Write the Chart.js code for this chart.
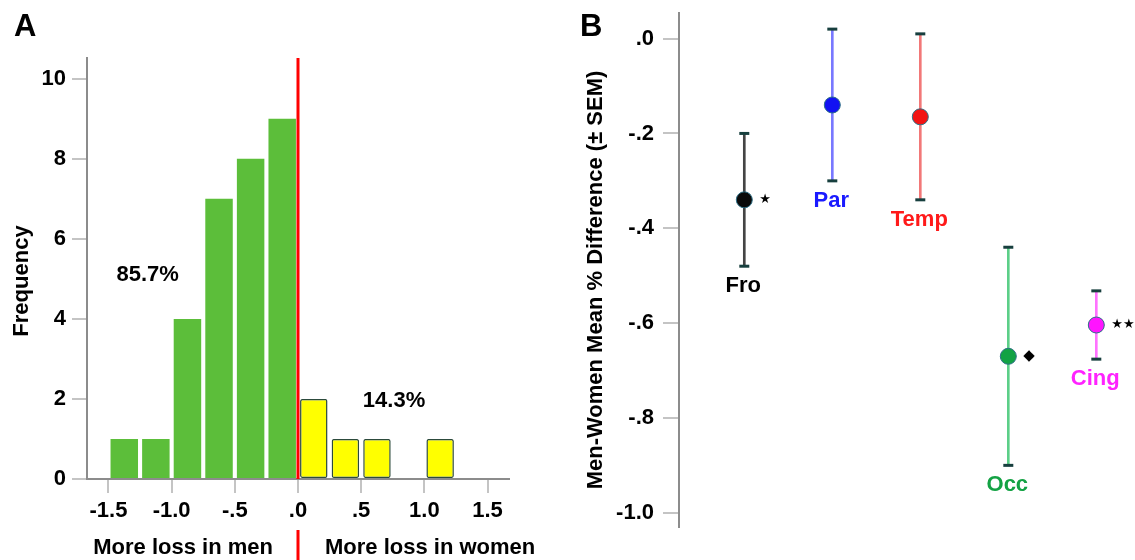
<!DOCTYPE html>
<html lang="en">
<head>
  <meta charset="UTF-8" />
  <title>Men vs women loss</title>
  <style>
    * {
      box-sizing: border-box;
    }
    body {
      margin: 0;
      width: 1135px;
      height: 560px;
      overflow: hidden;
      position: relative;
      background: #fff;
      font-family: 'Liberation Sans', Arial, sans-serif;
    }
    canvas {
      position: absolute;
      top: 0;
    }
    #histA {
      left: 0;
    }
    #diffB {
      left: 560px;
    }
    .letter {
      position: absolute;
      top: 10px;
      font-size: 31px;
      font-weight: bold;
      line-height: 1;
      color: #000;
    }
  </style>
</head>
<body>
  <canvas id="histA" width="560" height="560"></canvas>
  <canvas id="diffB" width="575" height="560"></canvas>
  <div class="letter" style="left:14px">A</div>
  <div class="letter" style="left:580px">B</div>

  <script src="https://cdn.jsdelivr.net/npm/chart.js"></script>
  <script>
    // panel A: histogram of differences (bin width .25)
    const binCenters = [-1.375, -1.125, -0.875, -0.625, -0.375, -0.125, 0.125, 0.375, 0.625, 1.125];
    const binCounts = [1, 1, 4, 7, 8, 9, 2, 1, 1, 1];
    const histXTicks = [-1.5, -1.0, -0.5, 0, 0.5, 1.0, 1.5];
    const histXLabels = ['-1.5', '-1.0', '-.5', '.0', '.5', '1.0', '1.5'];
    const histYTicks = [0, 2, 4, 6, 8, 10];

    // panel B: regional mean differences
    const regions = ['Fro', 'Par', 'Temp', 'Occ', 'Cing'];
    const regionMeans = [-0.34, -0.14, -0.165, -0.67, -0.604];
    const regionSem = [0.14, 0.16, 0.175, 0.23, 0.072];
    const regionMarks = ['\u2605', '', '', '\u25C6', '\u2605\u2605'];
    const diffYTicks = [0, -0.2, -0.4, -0.6, -0.8, -1.0];
    const diffYLabels = ['.0', '-.2', '-.4', '-.6', '-.8', '-1.0'];

    const FONT = "'Liberation Sans', Arial, sans-serif";
    const tickFont = { family: FONT, size: 22, weight: 'bold' };

    const dotColors = ['#0a0a0a', '#1212f2', '#f21414', '#12a244', '#ff14ff'];
    const lineColors = ['#444444', '#7878ff', '#f27878', '#5ccf88', '#ff72ff'];
    const labelColors = ['#000000', '#1a1aff', '#ff1a1a', '#14a244', '#ff22ff'];

    const totalCount = binCounts.reduce((a, b) => a + b, 0);
    const menCount = binCounts.filter((c, i) => binCenters[i] < 0).reduce((a, b) => a + b, 0);
    const menPct = (100 * menCount / totalCount).toFixed(1) + '%';
    const womenPct = (100 * (totalCount - menCount) / totalCount).toFixed(1) + '%';

    const histExtras = {
      id: 'histExtras',
      afterDatasetsDraw(chart) {
        const { ctx, chartArea, scales: { x, y } } = chart;
        const zx = x.getPixelForValue(0);
        ctx.save();
        ctx.strokeStyle = '#ff0000';
        ctx.lineWidth = 3;
        ctx.beginPath();
        ctx.moveTo(zx, chartArea.top);
        ctx.lineTo(zx, chartArea.bottom);
        ctx.moveTo(zx, 530);
        ctx.lineTo(zx, 560);
        ctx.stroke();

        ctx.fillStyle = '#000';
        ctx.font = 'bold 22px ' + FONT;
        ctx.textBaseline = 'middle';
        ctx.textAlign = 'right';
        ctx.fillText('More loss in men', zx - 25, 548);
        ctx.textAlign = 'left';
        ctx.fillText('More loss in women', zx + 27, 548);

        ctx.textAlign = 'center';
        ctx.fillText(menPct, x.getPixelForValue(-1.19), y.getPixelForValue(5.1));
        ctx.fillText(womenPct, x.getPixelForValue(0.76), y.getPixelForValue(1.96));

        ctx.translate(22, 281);
        ctx.rotate(-Math.PI / 2);
        ctx.fillText('Frequency', 0, 0);
        ctx.restore();
      }
    };

    new Chart(document.getElementById('histA'), {
      type: 'bar',
      data: {
        datasets: [{
          data: binCenters.map((c, i) => ({ x: c, y: binCounts[i] })),
          backgroundColor: binCenters.map(c => c < 0 ? '#5cbe3a' : '#ffff00'),
          borderColor: binCenters.map(c => c < 0 ? '#5cbe3a' : '#2c4a3c'),
          borderWidth: binCenters.map(c => c < 0 ? 0 : 1.5),
          borderRadius: binCenters.map(c => c < 0 ? 0 : 2),
          borderSkipped: false,
          barPercentage: 0.87,
          categoryPercentage: 1
        }]
      },
      options: {
        responsive: false,
        animation: false,
        layout: { padding: { top: 58, right: 51, left: 0, bottom: 0 } },
        plugins: { legend: { display: false }, tooltip: { enabled: false } },
        scales: {
          x: {
            type: 'linear',
            min: -1.67,
            max: 1.67,
            offset: false,
            grid: { offset: false, drawOnChartArea: false, tickLength: 14, color: '#c4c4c4', lineWidth: 2 },
            border: { color: '#8c8c8c', width: 2 },
            afterBuildTicks: s => { s.ticks = histXTicks.map(v => ({ value: v })); },
            afterFit: s => { s.height = 81; },
            ticks: {
              callback: (v, i) => histXLabels[i],
              color: '#000',
              font: tickFont,
              padding: 5,
              maxRotation: 0,
              autoSkip: false
            }
          },
          y: {
            min: 0,
            max: 10.52,
            grid: { drawOnChartArea: false, tickLength: 15, color: '#c4c4c4', lineWidth: 2 },
            border: { color: '#8c8c8c', width: 2 },
            afterBuildTicks: s => { s.ticks = histYTicks.map(v => ({ value: v })); },
            afterFit: s => { s.width = 87; },
            ticks: { color: '#000', font: tickFont, padding: 6 }
          }
        }
      },
      plugins: [histExtras]
    });

    const diffExtras = {
      id: 'diffExtras',
      afterDatasetsDraw(chart) {
        const { ctx, scales: { x, y } } = chart;
        ctx.save();
        ctx.textBaseline = 'middle';
        regions.forEach((name, i) => {
          const px = x.getPixelForValue(i + 1);
          const low = y.getPixelForValue(regionMeans[i] - regionSem[i]);
          ctx.fillStyle = labelColors[i];
          ctx.font = 'bold 22px ' + FONT;
          ctx.textAlign = 'center';
          ctx.fillText(name, px - 1, low + 20);
          if (regionMarks[i]) {
            ctx.fillStyle = '#000';
            ctx.font = (regionMarks[i] === '\u25C6' ? '15px' : '13px') + " 'DejaVu Sans', sans-serif";
            ctx.textAlign = 'left';
            ctx.fillText(regionMarks[i], px + 15, y.getPixelForValue(regionMeans[i]));
          }
        });
        ctx.fillStyle = '#000';
        ctx.font = 'bold 22px ' + FONT;
        ctx.textAlign = 'center';
        ctx.translate(36, 280);
        ctx.rotate(-Math.PI / 2);
        ctx.fillText('Men-Women Mean % Difference (\u00B1 SEM)', 0, 0);
        ctx.restore();
      }
    };

    new Chart(document.getElementById('diffB'), {
      type: 'scatter',
      data: {
        datasets: [
          {
            type: 'bar',
            data: regions.map((r, i) => ({ x: i + 1, y: [regionMeans[i] - regionSem[i], regionMeans[i] + regionSem[i]] })),
            backgroundColor: lineColors,
            barThickness: 2,
            order: 3
          },
          {
            data: regions.flatMap((r, i) => [
              { x: i + 1, y: regionMeans[i] + regionSem[i] },
              { x: i + 1, y: regionMeans[i] - regionSem[i] }
            ]),
            pointStyle: 'line',
            pointRadius: 5,
            borderColor: '#173f3e',
            borderWidth: 3,
            order: 2
          },
          {
            data: regions.map((r, i) => ({ x: i + 1, y: regionMeans[i] })),
            pointRadius: 8,
            backgroundColor: dotColors,
            borderColor: '#2d6f86',
            borderWidth: 1,
            order: 1
          }
        ]
      },
      options: {
        responsive: false,
        animation: false,
        layout: { padding: { top: 13, right: 10, left: 0, bottom: 33 } },
        plugins: { legend: { display: false }, tooltip: { enabled: false } },
        scales: {
          x: {
            type: 'linear',
            min: 0.258,
            max: 5.326,
            offset: false,
            grid: { offset: false },
            display: false
          },
          y: {
            min: -1.03,
            max: 0.054,
            grid: { drawOnChartArea: false, tickLength: 16, color: '#c4c4c4', lineWidth: 2 },
            border: { color: '#8c8c8c', width: 2 },
            afterBuildTicks: s => { s.ticks = diffYTicks.map(v => ({ value: v })); },
            afterFit: s => {
              s.width = 119;
              s.paddingTop = 0;
              s.paddingBottom = 0;
            },
            ticks: {
              callback: (v, i) => diffYLabels[i],
              color: '#000',
              font: tickFont,
              padding: 9
            }
          }
        }
      },
      plugins: [diffExtras]
    });
  </script>
</body>
</html>
